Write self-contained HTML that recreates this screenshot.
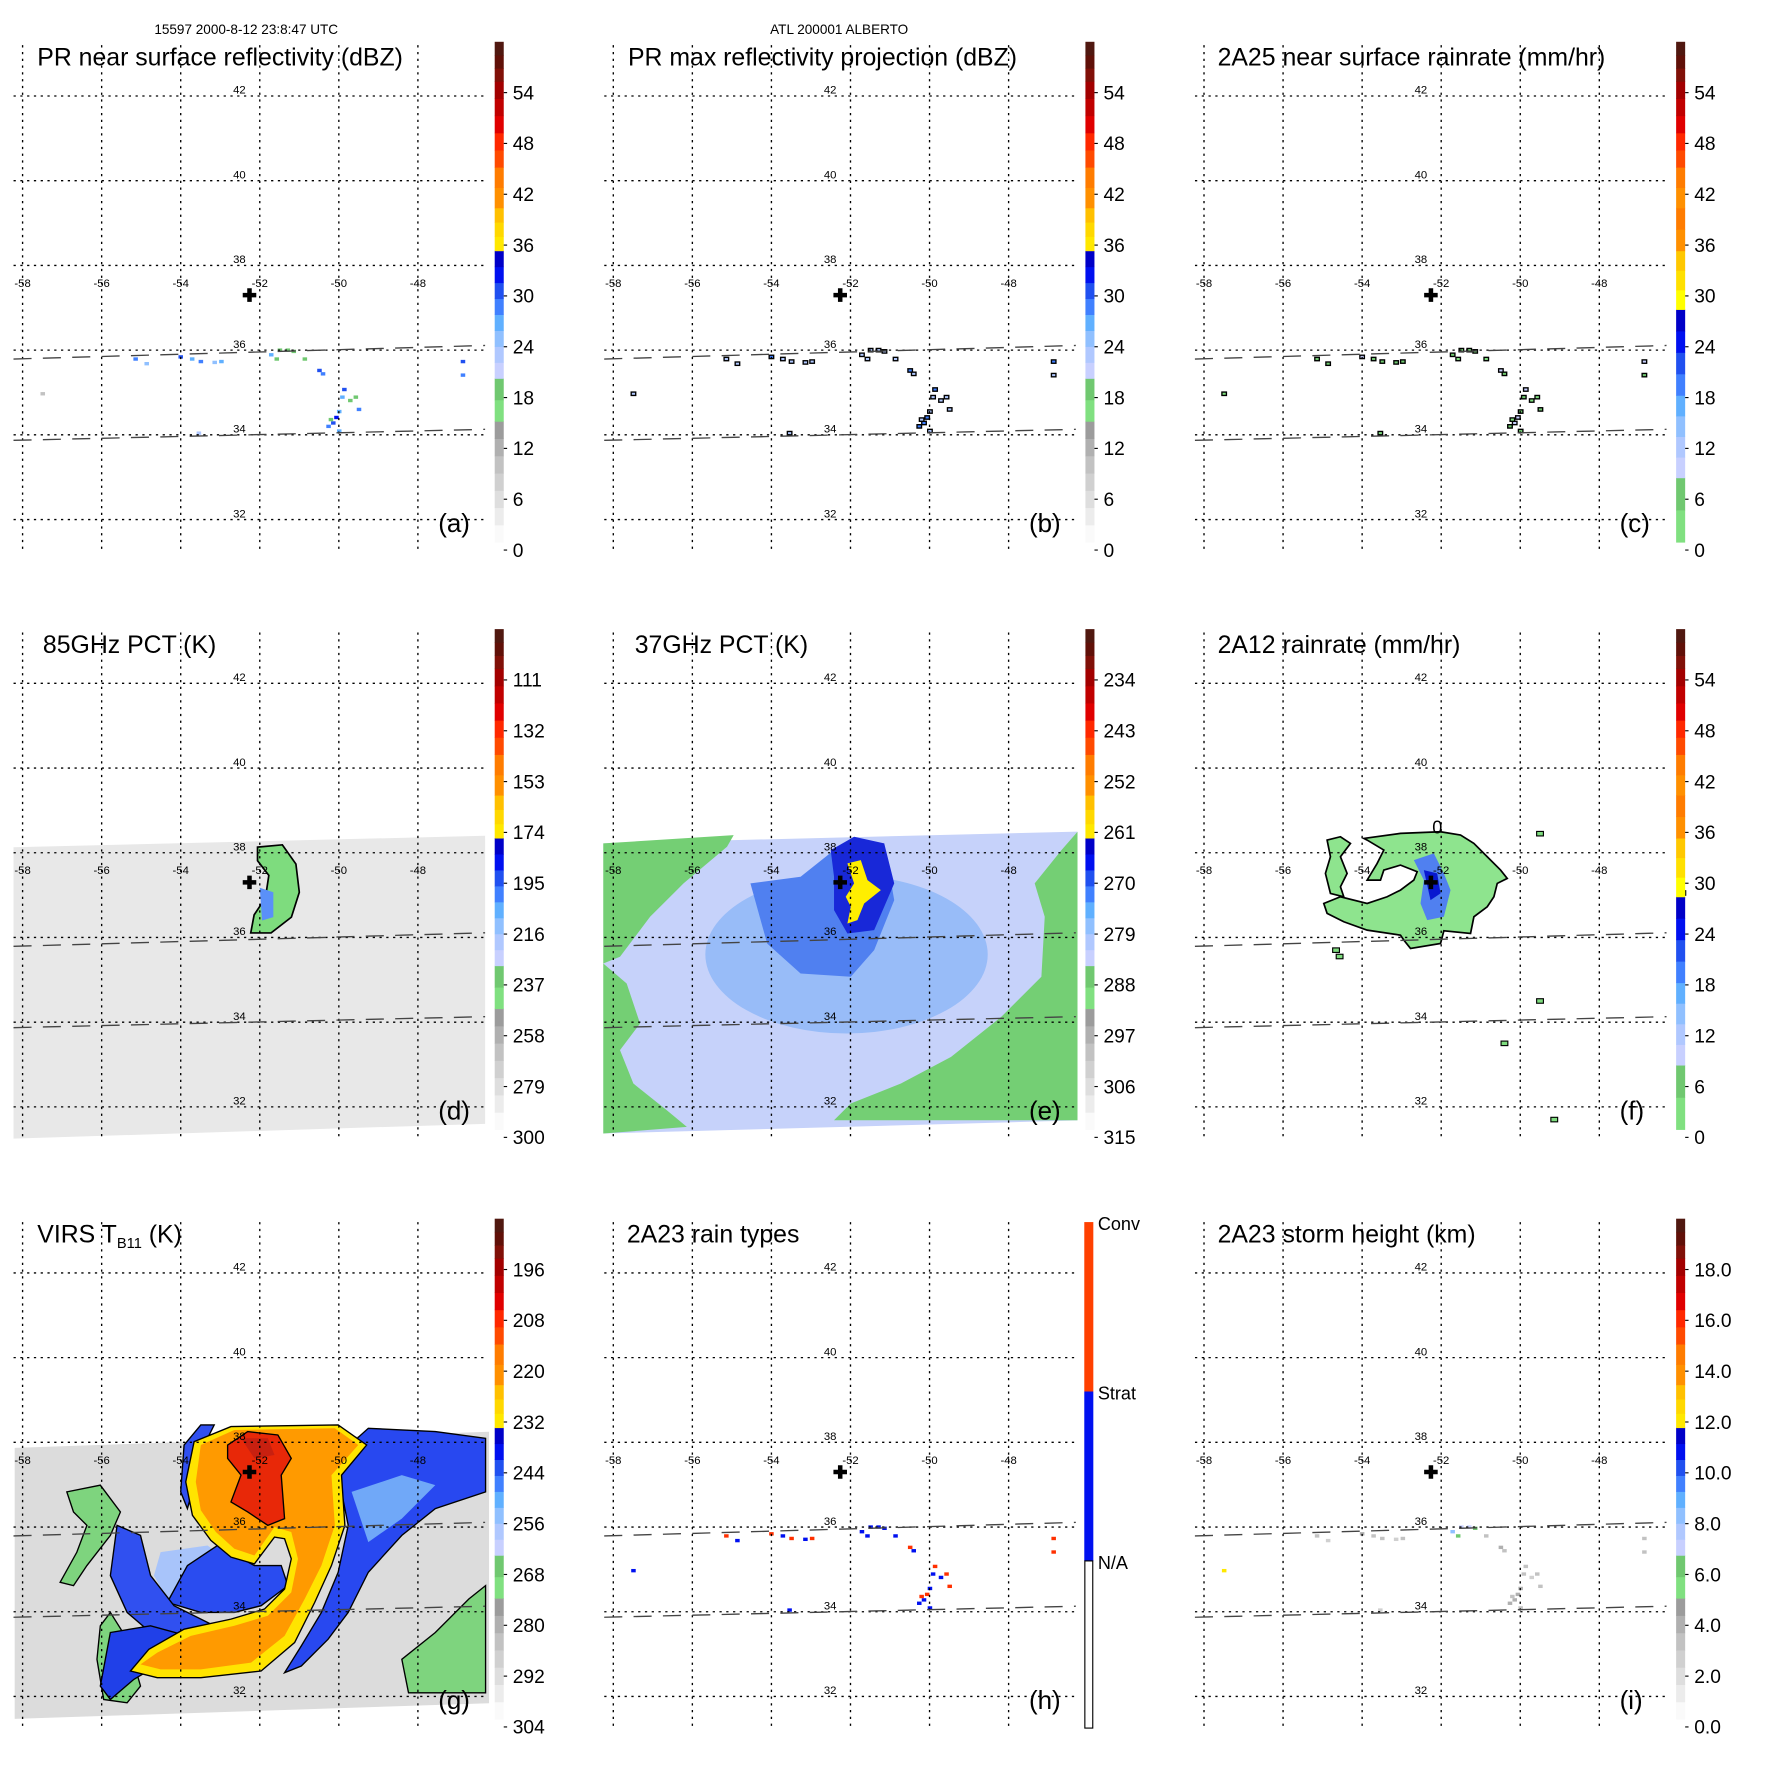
<!DOCTYPE html>
<html><head><meta charset="utf-8">
<style>
html,body{margin:0;padding:0;background:#fff;}
svg{display:block;font-family:"Liberation Sans",Arial,sans-serif;}
</style></head>
<body>
<svg id="fig" width="1771" height="1771" viewBox="0 0 1568 1568" xmlns="http://www.w3.org/2000/svg">
<text x="218" y="30" font-size="12" text-anchor="middle">15597 2000-8-12 23:8:47 UTC</text>
<text x="743" y="30" font-size="12" text-anchor="middle">ATL 200001 ALBERTO</text>
</svg>
<script>
const NS='http://www.w3.org/2000/svg';
const svg=document.getElementById('fig');
const lonTicks=[-58,-56,-54,-52,-50,-48];
const latTicks=[42,40,38,36,34,32];
const dbzLabels=['0','6','12','18','24','30','36','42','48','54'];
const rainLabels=['0','6','12','18','24','30','36','42','48','54'];
const pct85Labels=['300','279','258','237','216','195','174','153','132','111'];
const pct37Labels=['315','306','297','288','279','270','261','252','243','234'];
const virsLabels=['304','292','280','268','256','244','232','220','208','196'];
const shLabels=['0.0','2.0','4.0','6.0','8.0','10.0','12.0','14.0','16.0','18.0'];
const typeLabels=['N/A','Strat','Conv'];
const centerLon=-52.26, centerLat=37.3;
const echoLon=[-55.14,-54.86,-54.0,-53.71,-53.49,-53.14,-52.97,-51.71,-51.49,-51.29,-51.14,-50.86,-50.49,-50.4,-49.86,-49.91,-49.71,-49.57,-49.99,-50.06,-50.14,-50.2,-50.26,-49.99,-53.54,-51.57,-46.86,-46.86,-57.49,-49.49];
const echoLat=[35.79,35.68,35.84,35.79,35.73,35.71,35.73,35.89,36.0,36.0,35.97,35.79,35.52,35.44,35.07,34.89,34.81,34.89,34.55,34.41,34.28,34.36,34.2,34.09,34.04,35.79,35.73,35.41,34.97,34.6];
const reflVals=[28,25,30,26,28,24,26,26,18,18,18,18,30,28,30,26,18,18,26,33,30,18,28,26,22,18,30,28,10,28];
const maxVals=[40,38,42,36,40,36,38,36,30,30,30,30,44,40,42,38,32,30,40,46,44,30,42,38,34,30,42,40,20,40];
const rainVals=[6,4,8,5,6,4,5,5,2,2,2,2,8,6,8,5,2,2,5,10,8,2,6,5,3,2,8,6,1,6];
const typeVals=[2,1,2,1,2,1,2,1,1,1,1,1,2,1,2,1,1,2,1,2,1,2,1,1,1,1,2,2,1,2];
const heightVals=[3,2.5,3.5,3,3,2.5,3,8,7,7,6.5,3,3.5,3,3,3,2.5,3,3.5,4,3.5,3,3.5,3,2.5,6,3,3,12,3];

function el(tag,attrs,parent){const e=document.createElementNS(NS,tag);for(const k in attrs)e.setAttribute(k,attrs[k]);(parent||svg).appendChild(e);return e;}
function proj(p,lon,lat){return [p.x0+20+(lon+58)*35, p.y0+85+(42-lat)*37.5];}
function pts(p,arr){return arr.map(a=>proj(p,a[0],a[1]).join(',')).join(' ');}
const hiGroup=[[258,296,['#ffe800','#ffd800','#ffc000']],[296,332,['#ff9000','#ff7c00']],[332,408,['#ff4a00','#ff2800','#e00000','#c00000','#a20000']],[408,443,['#801008','#601008','#501810']]];
const dbzPal=[[0,107,['#fafafa','#ececec','#dedede','#d0d0d0','#c2c2c2','#b0b0b0','#9c9c9c']],[107,145,['#80e080','#70c870']],[145,258,['#c8d0ff','#b0c8ff','#90c0ff','#60b0ff','#4080ff','#2050f0','#0010f0','#0000c8']]].concat(hiGroup);
const rainPal=[[0,57,['#80e080','#70c870']],[57,130,['#c8d0ff','#b0c8ff','#90c0ff','#60b0ff']],[130,206,['#4080ff','#2050f0','#0010f0','#0000c8']],[206,258,['#ffff00','#ffe000','#ffc800']],[258,296,['#ff9000','#ff7c00']]].concat(hiGroup.slice(1));
function palColor(pal,frac){const px=frac*443;for(const g of pal){if(px>=g[0]&&px<g[1]){const i=Math.min(g[2].length-1,Math.floor((px-g[0])/(g[1]-g[0])*g[2].length));return g[2][i];}}return '#501810';}
function dbzColor(v){return palColor(dbzPal,v/60);}
function rainColor(v){return palColor(rainPal,v/60);}

const panels=[
 {k:'a',x0:0,y0:0,title:'PR near surface reflectivity (dBZ)',pal:dbzPal,labels:dbzLabels,tx:33},
 {k:'b',x0:523,y0:0,title:'PR max reflectivity projection (dBZ)',pal:dbzPal,labels:dbzLabels,tx:33},
 {k:'c',x0:1046,y0:0,title:'2A25 near surface rainrate (mm/hr)',pal:rainPal,labels:rainLabels,tx:32},
 {k:'d',x0:0,y0:520,title:'85GHz PCT (K)',pal:dbzPal,labels:pct85Labels,tx:38},
 {k:'e',x0:523,y0:520,title:'37GHz PCT (K)',pal:dbzPal,labels:pct37Labels,tx:39},
 {k:'f',x0:1046,y0:520,title:'2A12 rainrate (mm/hr)',pal:rainPal,labels:rainLabels,tx:32},
 {k:'g',x0:0,y0:1042,title:'VIRS',pal:dbzPal,labels:virsLabels,tx:33},
 {k:'h',x0:523,y0:1042,title:'2A23 rain types',pal:null,labels:typeLabels,tx:32},
 {k:'i',x0:1046,y0:1042,title:'2A23 storm height (km)',pal:dbzPal,labels:shLabels,tx:32}];
const P={};panels.forEach(p=>P[p.k]=p);

const zg=a=>a.map(q=>[-58+(q[0]-68)/118,36-(q[1]-305)/126.5]);
const ze=a=>a.map(q=>[-58+(q[0]-40)/118.2,38-(q[1]-108)/127]);
const zf=a=>a.map(q=>[-52+(q[0]-422)/118.5,38-(q[1]-138)/127]);
const pd=a=>a.map(q=>[-58+(q[0]-20)/35,42-(q[1]-605)/37.5]);

function poly(p,arr,fill,name,extra){const e=el('polygon',Object.assign({points:pts(p,arr),fill:fill},extra||{}));return e;}

(function(){const p=P.d;
 poly(p,[[-58.23,38.13],[-46.3,38.4],[-46.3,31.6],[-58.23,31.25]],'#e8e8e8','pct85-swath');
 poly(p,pd([[228,750],[250,748],[262,765],[265,790],[258,812],[240,826],[222,826],[225,810],[235,795],[238,775],[228,762]]),'#7edc7e','pct85-storm',{stroke:'#000','stroke-width':1.5});
 poly(p,pd([[230,786],[242,790],[242,812],[232,815]]),'#5a90f8','pct85-storm-core');
})();
(function(){const p=P.e;
 poly(p,[[-58.25,38.22],[-46.26,38.5],[-46.26,31.68],[-58.25,31.37]],'#c6d2fa','pct37-swath');
 const el2=el('ellipse',{cx:proj(p,-52.1,35.6)[0],cy:proj(p,-52.1,35.6)[1],rx:125,ry:70,fill:'#98bcf8'});
 
 poly(p,ze([[10,80],[400,55],[380,90],[250,200],[150,300],[60,420],[10,440]]),'#74cf74','pct37-green-nw');
 poly(p,ze([[10,440],[80,500],[120,620],[60,700],[100,800],[200,880],[260,930],[10,950]]),'#74cf74','pct37-green-w');
 poly(p,ze([[1428,45],[1428,910],[700,910],[750,860],[900,800],[1050,720],[1200,600],[1320,480],[1330,300],[1300,200],[1380,100]]),'#74cf74','pct37-green-se');
 poly(p,ze([[450,200],[600,180],[700,100],[850,80],[880,250],[820,400],[750,480],[600,470],[500,380]]),'#5080f0','pct37-blue');
 poly(p,ze([[690,100],[760,60],[850,80],[880,200],[820,340],[740,350],[700,280],[700,180]]),'#1828d8','pct37-dark-blue');
 poly(p,ze([[740,140],[780,130],[800,190],[840,220],[790,260],[770,310],[740,320],[750,270],[735,240],[760,200]]),'#ffee00','pct37-yellow');
})();
(function(){const p=P.f;
 poly(p,zf([[190,95],[300,80],[420,75],[480,85],[520,110],[560,150],[600,190],[620,215],[590,230],[580,270],[560,300],[520,330],[510,380],[430,372],[420,410],[330,425],[310,400],[300,385],[200,370],[130,345],[80,320],[70,290],[120,270],[200,290],[260,270],[300,250],[340,220],[350,195],[300,175],[250,190],[240,220],[200,220],[230,170],[250,130],[200,100]]),'#8ee48e','rain2a12-area',{stroke:'#000','stroke-width':1.5});
 poly(p,zf([[80,100],[120,90],[150,110],[120,150],[140,200],[120,240],[130,270],[90,260],[75,200],[90,150]]),'#8ee48e','rain2a12-arm',{stroke:'#000','stroke-width':1.5});
 poly(p,zf([[340,160],[400,140],[430,200],[450,250],[430,330],[380,340],[360,290],[370,220]]),'#5080f0','rain2a12-core');
 poly(p,zf([[370,190],[410,200],[420,260],[390,280]]),'#0818d0','rain2a12-core-heavy');
 const t=el('text',{x:proj(p,-52.1,38.45)[0],y:proj(p,-52.1,38.45)[1],'font-size':16,'text-anchor':'middle'});t.textContent='0';
 
 const bits=[[-54.66,35.7],[-54.57,35.55],[-50.4,33.5],[-49.5,34.5],[-49.14,31.7],[-45.9,37.05],[-49.5,38.45]];
 bits.forEach(b=>{const q=proj(p,b[0],b[1]);const r=el('rect',{x:q[0]-3,y:q[1]-2,width:6,height:4,fill:'#7edc7e',stroke:'#000','stroke-width':1});});
})();
(function(){const p=P.g;
 poly(p,[[-58.2,37.87],[-46.2,38.25],[-46.2,31.84],[-58.2,31.47]],'#dcdcdc','virs-swath');
 const G=(a,c,n,s)=>poly(p,zg(a),c,n,s?{stroke:'#000','stroke-width':1.2}:{});
 G([[200,200],[300,180],[360,260],[330,330],[260,420],[220,480],[180,470],[230,380],[260,300],[220,260]],'#7ed47e','virs-green-w',1);
 G([[300,600],[330,560],[380,640],[420,780],[380,830],[310,820],[290,700]],'#7ed47e','virs-green-sw',1);
 G([[1200,700],[1300,620],[1400,520],[1450,480],[1450,800],[1220,800]],'#7ed47e','virs-green-e',1);
 G([[480,380],[620,360],[720,430],[720,520],[600,560],[500,520],[460,450]],'#a8c4fa','virs-light-blue');
 G([[560,420],[650,360],[760,420],[840,420],[860,480],[780,540],[700,560],[600,560],[500,530]],'#2a4cf0','virs-blue-inner',1);
 G([[350,300],[420,330],[450,450],[520,540],[640,600],[600,660],[450,620],[380,560],[330,450]],'#3050f0','virs-blue-west',1);
 G([[330,620],[450,600],[560,630],[500,700],[400,760],[330,820],[300,780]],'#2040e8','virs-blue-sw',1);
 G([[1000,100],[1100,10],[1300,20],[1450,40],[1450,200],[1300,250],[1200,330],[1100,440],[1040,560],[980,640],[900,720],[850,740],[900,660],[960,560],[1010,440],[1040,300]],'#2848f0','virs-blue-east',1);
 G([[1050,200],[1200,150],[1300,180],[1200,280],[1100,350]],'#70a8f8','virs-blue-east-light');
 G([[550,60],[600,0],[640,0],[600,80],[580,180],[560,250],[540,200]],'#3050f0','virs-blue-nw',1);
 G([[580,50],[690,5],[1010,0],[1095,60],[1020,150],[1030,300],[990,420],[940,530],[880,650],[780,735],[600,755],[470,755],[390,735],[445,670],[550,610],[690,580],[790,550],[850,490],[870,400],[850,340],[820,335],[760,415],[690,395],[630,345],[575,270],[555,170]],'#ffe400','virs-yellow',1);
 G([[600,60],[700,15],[1000,10],[1070,60],[990,150],[1000,300],[960,420],[910,520],[850,630],[750,710],[600,730],[480,730],[420,715],[470,680],[570,630],[700,600],[800,570],[870,500],[890,400],[870,320],[820,305],[760,390],[700,370],[645,320],[600,255],[585,170]],'#ff9a00','virs-orange');
 G([[680,60],[740,20],[830,30],[870,100],[840,150],[850,280],[800,300],[740,260],[690,230],[720,150],[680,100]],'#e82808','virs-red-core',1);
 G([[720,40],[800,40],[820,90],[760,100]],'#c82010','virs-dark-core');
})();
const echoStyle={a:i=>({fill:dbzColor(reflVals[i])}),b:i=>({fill:dbzColor(maxVals[i]>40?28:22),stroke:'#000','stroke-width':1.2}),c:i=>({fill:rainColor(rainVals[i]),stroke:'#000','stroke-width':1.2}),h:i=>({fill:typeVals[i]===2?'#ff3000':'#0010f0'}),i:i=>({fill:dbzColor(heightVals[i]*3)})};
['a','b','c','h','i'].forEach(k=>{const p=P[k];echoLon.forEach((lon,i)=>{const q=proj(p,lon,echoLat[i]);const r=el('rect',Object.assign({x:q[0]-2,y:q[1]-1.5,width:4,height:3},echoStyle[k](i)));
 
 });});

panels.forEach(p=>{
 const g=el('g',{});
 lonTicks.forEach(lon=>{const x=proj(p,lon,40)[0];const l=el('line',{x1:x,x2:x,y1:p.y0+40,y2:p.y0+487,stroke:'#000','stroke-width':1.2,'stroke-dasharray':'2,4'},g);
  const t=el('text',{x:x,y:p.y0+254,'font-size':10,'text-anchor':'middle'},g);t.textContent=String(lon);});
 latTicks.forEach(lat=>{const y=proj(p,-50,lat)[1];const l=el('line',{x1:p.x0+12,x2:p.x0+432,y1:y,y2:y,stroke:'#000','stroke-width':1.2,'stroke-dasharray':'2,4'},g);
  const t=el('text',{x:p.x0+212,y:y-2,'font-size':10,'text-anchor':'middle'},g);t.textContent=String(lat);});
 [[35.79,36.11],[33.87,34.13]].forEach(e=>{const a=proj(p,-58.23,e[0]),b=proj(p,-46.3,e[1]);const l=el('line',{x1:a[0],y1:a[1],x2:b[0],y2:b[1],stroke:'#444','stroke-width':1.2,'stroke-dasharray':'16,10'},g);});
 const c=proj(p,centerLon,centerLat);
 const cr=el('path',{d:`M${c[0]-6},${c[1]-2}h4v-4h4v4h4v4h-4v4h-4v-4h-4z`,fill:'#000'},g);
 const t=el('text',{x:p.x0+p.tx,y:p.y0+58,'font-size':22},g);
 
 if(p.k==='g'){t.textContent='VIRS T';const s=el('tspan',{'font-size':13,dy:5},t);s.textContent='B11';const s2=el('tspan',{dy:-5},t);s2.textContent=' (K)';}
 else t.textContent=p.title;
 const lt=el('text',{x:p.x0+388,y:p.y0+471,'font-size':23},g);lt.textContent='('+p.k+')';
 const cb=el('g',{},g);
 if(p.pal){
  p.pal.forEach(gr=>{const n=gr[2].length,h=(gr[1]-gr[0])/n;gr[2].forEach((col,j)=>{el('rect',{x:p.x0+438,y:p.y0+480-gr[0]-(j+1)*h,width:8,height:h+0.4,fill:col},cb);});});
  p.labels.forEach((lab,i)=>{const y=p.y0+487-i*45;el('line',{x1:p.x0+446,x2:p.x0+449,y1:y,y2:y,stroke:'#000','stroke-width':1},cb);const tt=el('text',{x:p.x0+454,y:y+6,'font-size':17},cb);tt.textContent=lab;});
 } else {
  el('rect',{x:p.x0+437,y:p.y0+40,width:8,height:150,fill:'#ff4000'},cb);
  el('rect',{x:p.x0+437,y:p.y0+190,width:8,height:150,fill:'#0010f0'},cb);
  el('rect',{x:p.x0+437.5,y:p.y0+340,width:7,height:148,fill:'#fff',stroke:'#000','stroke-width':1},cb);
  p.labels.forEach((lab,i)=>{const y=p.y0+340-i*150;const tt=el('text',{x:p.x0+449,y:y+7,'font-size':16},cb);tt.textContent=lab;});
 }
});
</script>
</body></html>
